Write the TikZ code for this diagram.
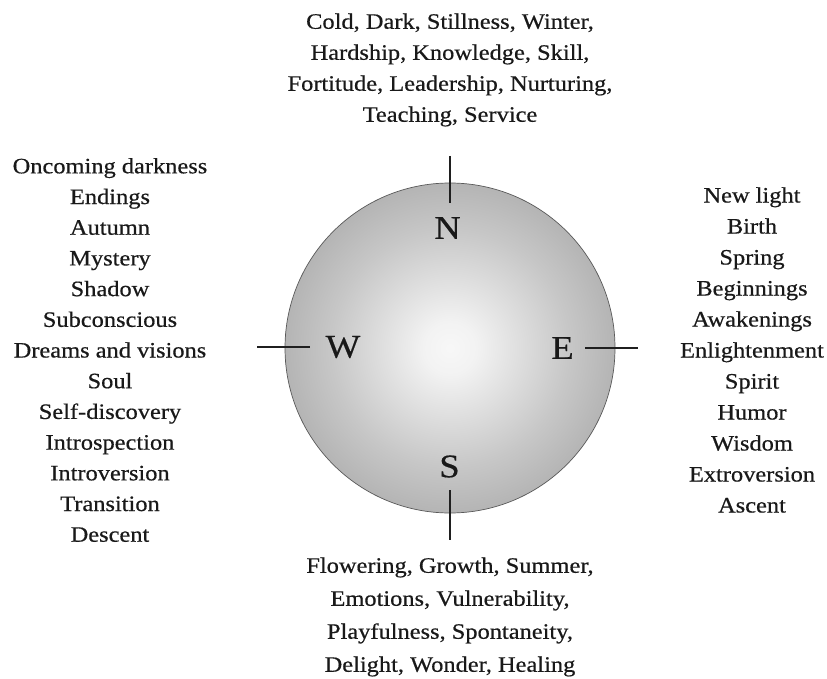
\documentclass[tikz,border=0pt]{standalone}
\usepackage{fontspec}
\setmainfont[FakeStretch=1.11,FakeBold=0.5]{Liberation Serif}
\pgfdeclareradialshading{globeshade}{\pgfpoint{0bp}{0bp}}{color(0bp)=(black!3); color(4bp)=(black!5); color(18bp)=(black!22); color(35.3bp)=(black!40); color(50bp)=(black!40)}
\begin{document}
\begin{tikzpicture}[x=1pt,y=1pt,
  lbl/.style={align=center, font=\fontsize{22}{31}\selectfont, text=black!90, inner sep=0pt},
  dir/.style={font=\fontsize{33}{33}\selectfont, text=black!90, inner sep=0pt},
  tickline/.style={line width=1.2pt, draw=black!88}]
\path[use as bounding box, fill=white] (0,0) rectangle (827,-679);
\node[circle, minimum size=330pt, inner sep=0pt, draw=black!65, line width=0.7pt, shading=globeshade] (globe) at (450,-348) {};
% ticks
\coordinate (n1) at (450,-156); \coordinate (n2) at (450,-203);
\coordinate (s1) at (450,-490); \coordinate (s2) at (450,-540);
\coordinate (w1) at (257,-347); \coordinate (w2) at (310,-347);
\coordinate (e1) at (585,-348); \coordinate (e2) at (638,-348);
\draw[tickline] (n1) -- (n2);
\draw[tickline] (s1) -- (s2);
\draw[tickline] (w1) -- (w2);
\draw[tickline] (e1) -- (e2);
% letters
\node[dir] (N) at (447.5,-228) {N};
\node[dir] (W) at (343,-347) {W};
\node[dir] (E) at (562.5,-348) {E};
\node[dir] (S) at (449.5,-466.5) {S};
% texts
\node[lbl] (north) at (450,-70) {Cold, Dark, Stillness, Winter,\\Hardship, Knowledge, Skill,\\Fortitude, Leadership, Nurturing,\\Teaching, Service};
\node[lbl, font=\fontsize{22}{33}\selectfont] (south) at (450,-617) {Flowering, Growth, Summer,\\Emotions, Vulnerability,\\Playfulness, Spontaneity,\\Delight, Wonder, Healing};
\node[lbl, font=\fontsize{22}{30.7}\selectfont] (west) at (110,-350) {Oncoming darkness\\Endings\\Autumn\\Mystery\\Shadow\\Subconscious\\Dreams and visions\\Soul\\Self-discovery\\Introspection\\Introversion\\Transition\\Descent};
\node[lbl] (east) at (752,-350) {New light\\Birth\\Spring\\Beginnings\\Awakenings\\Enlightenment\\Spirit\\Humor\\Wisdom\\Extroversion\\Ascent};
\end{tikzpicture}
\end{document}
